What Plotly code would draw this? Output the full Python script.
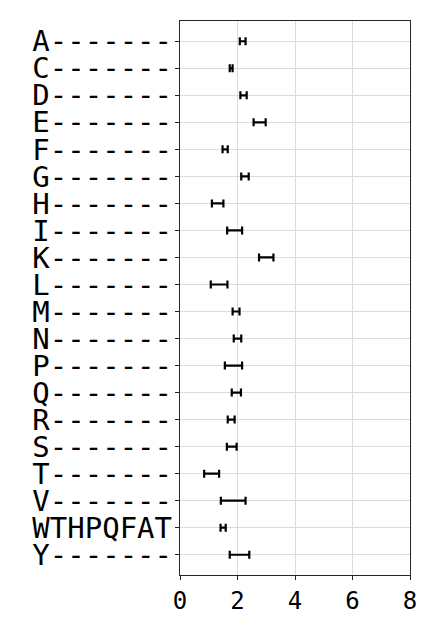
import plotly.graph_objects as go

categories = ["A-------", "C-------", "D-------", "E-------", "F-------", "G-------",
              "H-------", "I-------", "K-------", "L-------", "M-------", "N-------",
              "P-------", "Q-------", "R-------", "S-------", "T-------", "V-------",
              "WTHPQFAT", "Y-------"]
centers = [2.18, 1.78, 2.21, 2.77, 1.57, 2.26, 1.31, 1.90, 3.00, 1.36,
           1.95, 2.00, 1.86, 1.96, 1.78, 1.80, 1.10, 1.85, 1.50, 2.07]
half_widths = [0.10, 0.05, 0.11, 0.21, 0.09, 0.13, 0.20, 0.26, 0.25, 0.29,
               0.12, 0.13, 0.30, 0.16, 0.12, 0.17, 0.26, 0.43, 0.09, 0.34]
x_ticks = [0, 2, 4, 6, 8]

fig = go.Figure()
fig.add_trace(go.Scatter(
    x=centers, y=list(range(len(categories))), mode="markers",
    marker=dict(size=1, color="rgba(0,0,0,0)"),
    error_x=dict(type="data", array=half_widths, visible=True,
                 color="black", thickness=2.2, width=4),
    showlegend=False, hoverinfo="skip",
))

fig.update_layout(
    width=432, height=633,
    margin=dict(l=180, r=22, t=21, b=58),
    plot_bgcolor="white", paper_bgcolor="white",
    font=dict(family="DejaVu Sans Mono", color="black"),
)
fig.update_xaxes(
    range=[0, 8], tickvals=x_ticks, ticktext=[str(t) for t in x_ticks],
    tickfont=dict(size=24, family="DejaVu Sans Mono"),
    showgrid=True, gridcolor="#dcdcdc", gridwidth=1,
    showline=True, linecolor="#262626", linewidth=1.3, mirror=True,
    ticks="outside", ticklen=4, tickcolor="#262626", zeroline=False,
)
fig.update_yaxes(
    range=[len(categories) - 0.25, -0.75],
    tickvals=list(range(len(categories))), ticktext=categories,
    tickfont=dict(size=29, family="DejaVu Sans Mono"),
    ticklabelstandoff=-3,
    showgrid=True, gridcolor="#dcdcdc", gridwidth=1,
    showline=True, linecolor="#262626", linewidth=1.3, mirror=True,
    ticks="outside", ticklen=4, tickcolor="#262626", zeroline=False,
)

fig.write_html("out.html")
